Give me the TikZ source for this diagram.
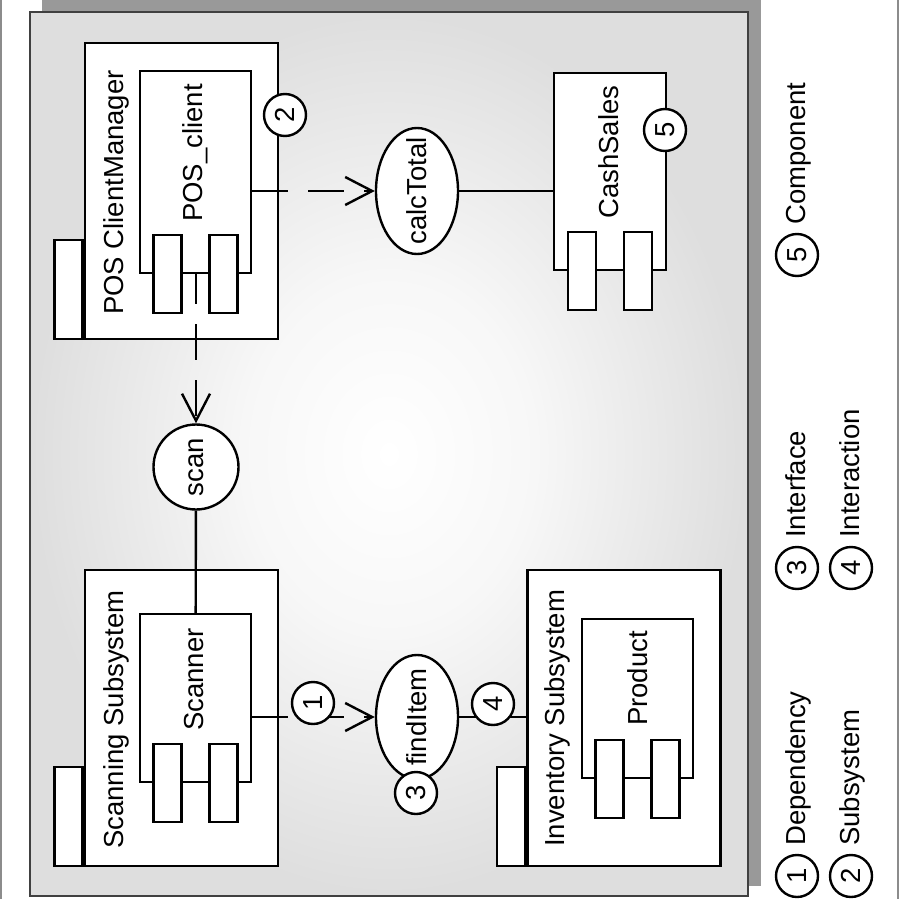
\documentclass[tikz,border=0pt]{standalone}
\usepackage{fontspec}
\setmainfont{Liberation Sans}
\usetikzlibrary{positioning, calc, arrows.meta, shapes.geometric}

\pgfdeclareradialshading{panel}{\pgfpoint{0bp}{0bp}}{%
  color(0bp)=(white); color(10bp)=(black!3); color(25bp)=(black!13); color(50bp)=(black!13)}

\tikzset{
  box/.style={draw, fill=white, line width=2.4pt, inner sep=0},
  iface/.style={ellipse, draw, fill=white, line width=2.4pt, inner sep=0},
  tag/.style={circle, draw, fill=white, line width=2.4pt, minimum size=42pt, inner sep=0, rotate=90},
  txt/.style={rotate=90, inner sep=0},
  lbl/.style={txt, anchor=base west},
  link/.style={line width=2.4pt},
  dep/.style={link, dash pattern=on 36pt off 20pt, -{Straight Barb[length=27pt, width=28pt]}},
}

\begin{document}
\begin{tikzpicture}[x=1pt, y=-1pt, font=\fontsize{27.5pt}{33pt}\selectfont]
\useasboundingbox (0,0) rectangle (900,899);
% panel with shadow
\fill[black!40] (42,0) rectangle (761,886);
\shade[shading=panel] (30,12) rectangle (748,896);
\draw[black!75, line width=2.4pt] (30,12) rectangle (748,896);
\draw[black!45, line width=1.5pt] (1,0) -- (1,899) (898,0) -- (898,899);

% subsystems
\foreach \n/\x/\y in {posmgr/181.5/191, scanning/181.5/718, inventory/624/718} {
	\node[box, minimum width=193pt, minimum height=296pt] (\n) at (\x,\y) {};
	\node[box, minimum width=28pt, minimum height=99pt, anchor=south east] (\n tab) at (\n.south west) {};
}

% components
\foreach \n/\x/\y/\w/\h in {client/195.5/172/111/202, scanner/195.5/698/111/168, product/637.5/698.5/111/159, cash/610/171.5/112/197} {
	\node[box, minimum width=\w pt, minimum height=\h pt] (\n) at (\x,\y) {};
	\node[box, minimum width=28pt, minimum height=78pt] (\n a) at ([xshift=-28pt]\n.south) {};
	\node[box, minimum width=28pt, minimum height=78pt] (\n b) at ([xshift=28pt]\n.south) {};
}

\node[lbl] (posmgr l) at (123,315) {POS ClientManager};
\node[lbl] (client l) at (202,222) {POS\_client};
\node[lbl] (scanning l) at (123,849) {Scanning Subsystem};
\node[lbl] (scanner l) at (203,731) {Scanner};
\node[lbl] (inventory l) at (564,847) {Inventory Subsystem};
\node[lbl] (product l) at (647,726) {Product};
\node[lbl] (cash l) at (618,219) {CashSales};

% interfaces
\node[iface, minimum width=82pt, minimum height=126pt, label={[txt]center:calcTotal}] (calc) at (417,191) {};
\node[iface, minimum width=82pt, minimum height=124pt, label={[txt]center:findItem}] (find) at (417,717) {};
\node[iface, minimum width=85pt, minimum height=85pt, label={[txt]center:scan}] (scan) at (196,467) {};

\draw[link] (scan) -- (scanner);
\draw[link] (calc) -- (calc -| cash.west);
\draw[link] (find) -- (find -| inventory.west);
\draw[dep] (client.east |- calc) -- (calc);
\draw[dep, dash phase=6pt] (client.south -| scan) -- (scan);
\draw[dep] (scanner.east |- find) -- (find);

% numbered marks
\node[tag] (t1) at (313,703) {1};
\node[tag] (t2) at (285,115) {2};
\node[tag] (t3) at (416,793) {3};
\node[tag] (t4) at (493,704) {4};
\node[tag] (t5) at (665,130) {5};

% legend
\foreach \k/\x/\y/\t in {1/797/876/Dependency, 2/851/876/Subsystem, 3/797/568/Interface, 4/851/568/Interaction, 5/797/255/Component} {
	\node[tag] (key\k) at (\x,\y) {\k};
	\node[lbl] (key\k l) at ([xshift=8pt, yshift=30pt]key\k.center) {\t};
}
\end{tikzpicture}
\end{document}
